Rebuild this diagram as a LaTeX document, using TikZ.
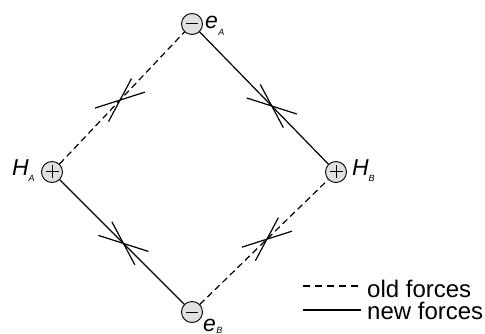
\documentclass[tikz,border=0pt]{standalone}
\usepackage{fontspec}
\setmainfont{Liberation Sans}
\usetikzlibrary{calc}
\begin{document}
\begin{tikzpicture}[x=1pt,y=-1pt,
  ion/.style={circle,draw=black,line width=0.9pt,fill=black!12,minimum size=21pt,inner sep=0pt},
  oldf/.style={line width=1.2pt,dash pattern=on 6.5pt off 4pt},
  newf/.style={line width=1.2pt},
  tick/.style={line width=1.2pt},
  lbl/.style={inner sep=0pt,font=\fontsize{23}{24}\selectfont},
  sub/.style={inner sep=0pt,font=\fontsize{9}{10}\selectfont\itshape},
  leg/.style={inner sep=0pt,anchor=base west,font=\fontsize{24}{26}\selectfont}]
\useasboundingbox (0,0) rectangle (485,334);
% ions
\node[ion] (eA) at (192,24) {};
\node[ion] (HA) at (52,172) {};
\node[ion] (HB) at (336,172) {};
\node[ion] (eB) at (192,312) {};
% signs
\draw[line width=1pt] ($(eA)+(-6,0)$) -- ($(eA)+(6,0)$);
\draw[line width=1pt] ($(eB)+(-6,0)$) -- ($(eB)+(6,0)$);
\draw[line width=1pt] ($(HA)+(-6.5,0)$) -- ($(HA)+(6.5,0)$) ($(HA)+(0,-6.5)$) -- ($(HA)+(0,6.5)$);
\draw[line width=1pt] ($(HB)+(-6.5,0)$) -- ($(HB)+(6.5,0)$) ($(HB)+(0,-6.5)$) -- ($(HB)+(0,6.5)$);
% labels
\node[lbl,anchor=base west] (leA) at (205,29) {\itshape e};
\node[sub,anchor=base west] (seA) at (leA.base east) [yshift=-7pt] {A};
\node[lbl,anchor=base west] (leB) at (203,331) {\itshape e};
\node[sub,anchor=base west] (seB) at (leB.base east) [yshift=-2.5pt] {B};
\node[lbl,anchor=base west] (lHA) at (12,176) {\itshape H};
\node[sub,anchor=base west] (sHA) at (lHA.base east) [xshift=-0.5pt,yshift=-6pt] {A};
\node[lbl,anchor=base west] (lHB) at (352,176) {\itshape H};
\node[sub,anchor=base west] (sHB) at (lHB.base east) [xshift=-0.5pt,yshift=-6pt] {B};
% forces
\draw[oldf] (HA) -- (eA);
\draw[newf] (eA) -- (HB);
\draw[newf] (HA) -- (eB);
\draw[oldf] (eB) -- (HB);
% crossing marks
\coordinate (m1) at ($(HA)!0.486!(eA)$);
\coordinate (m2) at ($(eA)!0.554!(HB)$);
\coordinate (m3) at ($(HA)!0.51!(eB)$);
\coordinate (m4) at ($(eB)!0.52!(HB)$);
\draw[tick] ($(m1)+(11.5,-21.5)$) -- ($(m1)+(-11.5,21.5)$) ($(m1)+(-25,8)$) -- ($(m1)+(25,-8)$);
\draw[tick] ($(m2)+(-11.5,-21.5)$) -- ($(m2)+(11.5,21.5)$) ($(m2)+(-25,-8)$) -- ($(m2)+(25,8)$);
\draw[tick] ($(m3)+(-11.5,-21.5)$) -- ($(m3)+(11.5,21.5)$) ($(m3)+(-25,-8)$) -- ($(m3)+(25,8)$);
\draw[tick] ($(m4)+(11.5,-21.5)$) -- ($(m4)+(-11.5,21.5)$) ($(m4)+(-25,8)$) -- ($(m4)+(25,-8)$);
% legend
\coordinate (l1a) at (303,286);
\coordinate (l1b) at (361,286);
\coordinate (l2a) at (303,310);
\coordinate (l2b) at (361,310);
\draw[oldf,dash pattern=on 7pt off 5pt] (l1a) -- (l1b);
\draw[newf] (l2a) -- (l2b);
\node[leg] (t1) at (367,297) {old forces};
\node[leg] (t2) at (367,319) {new forces};
\end{tikzpicture}
\end{document}
